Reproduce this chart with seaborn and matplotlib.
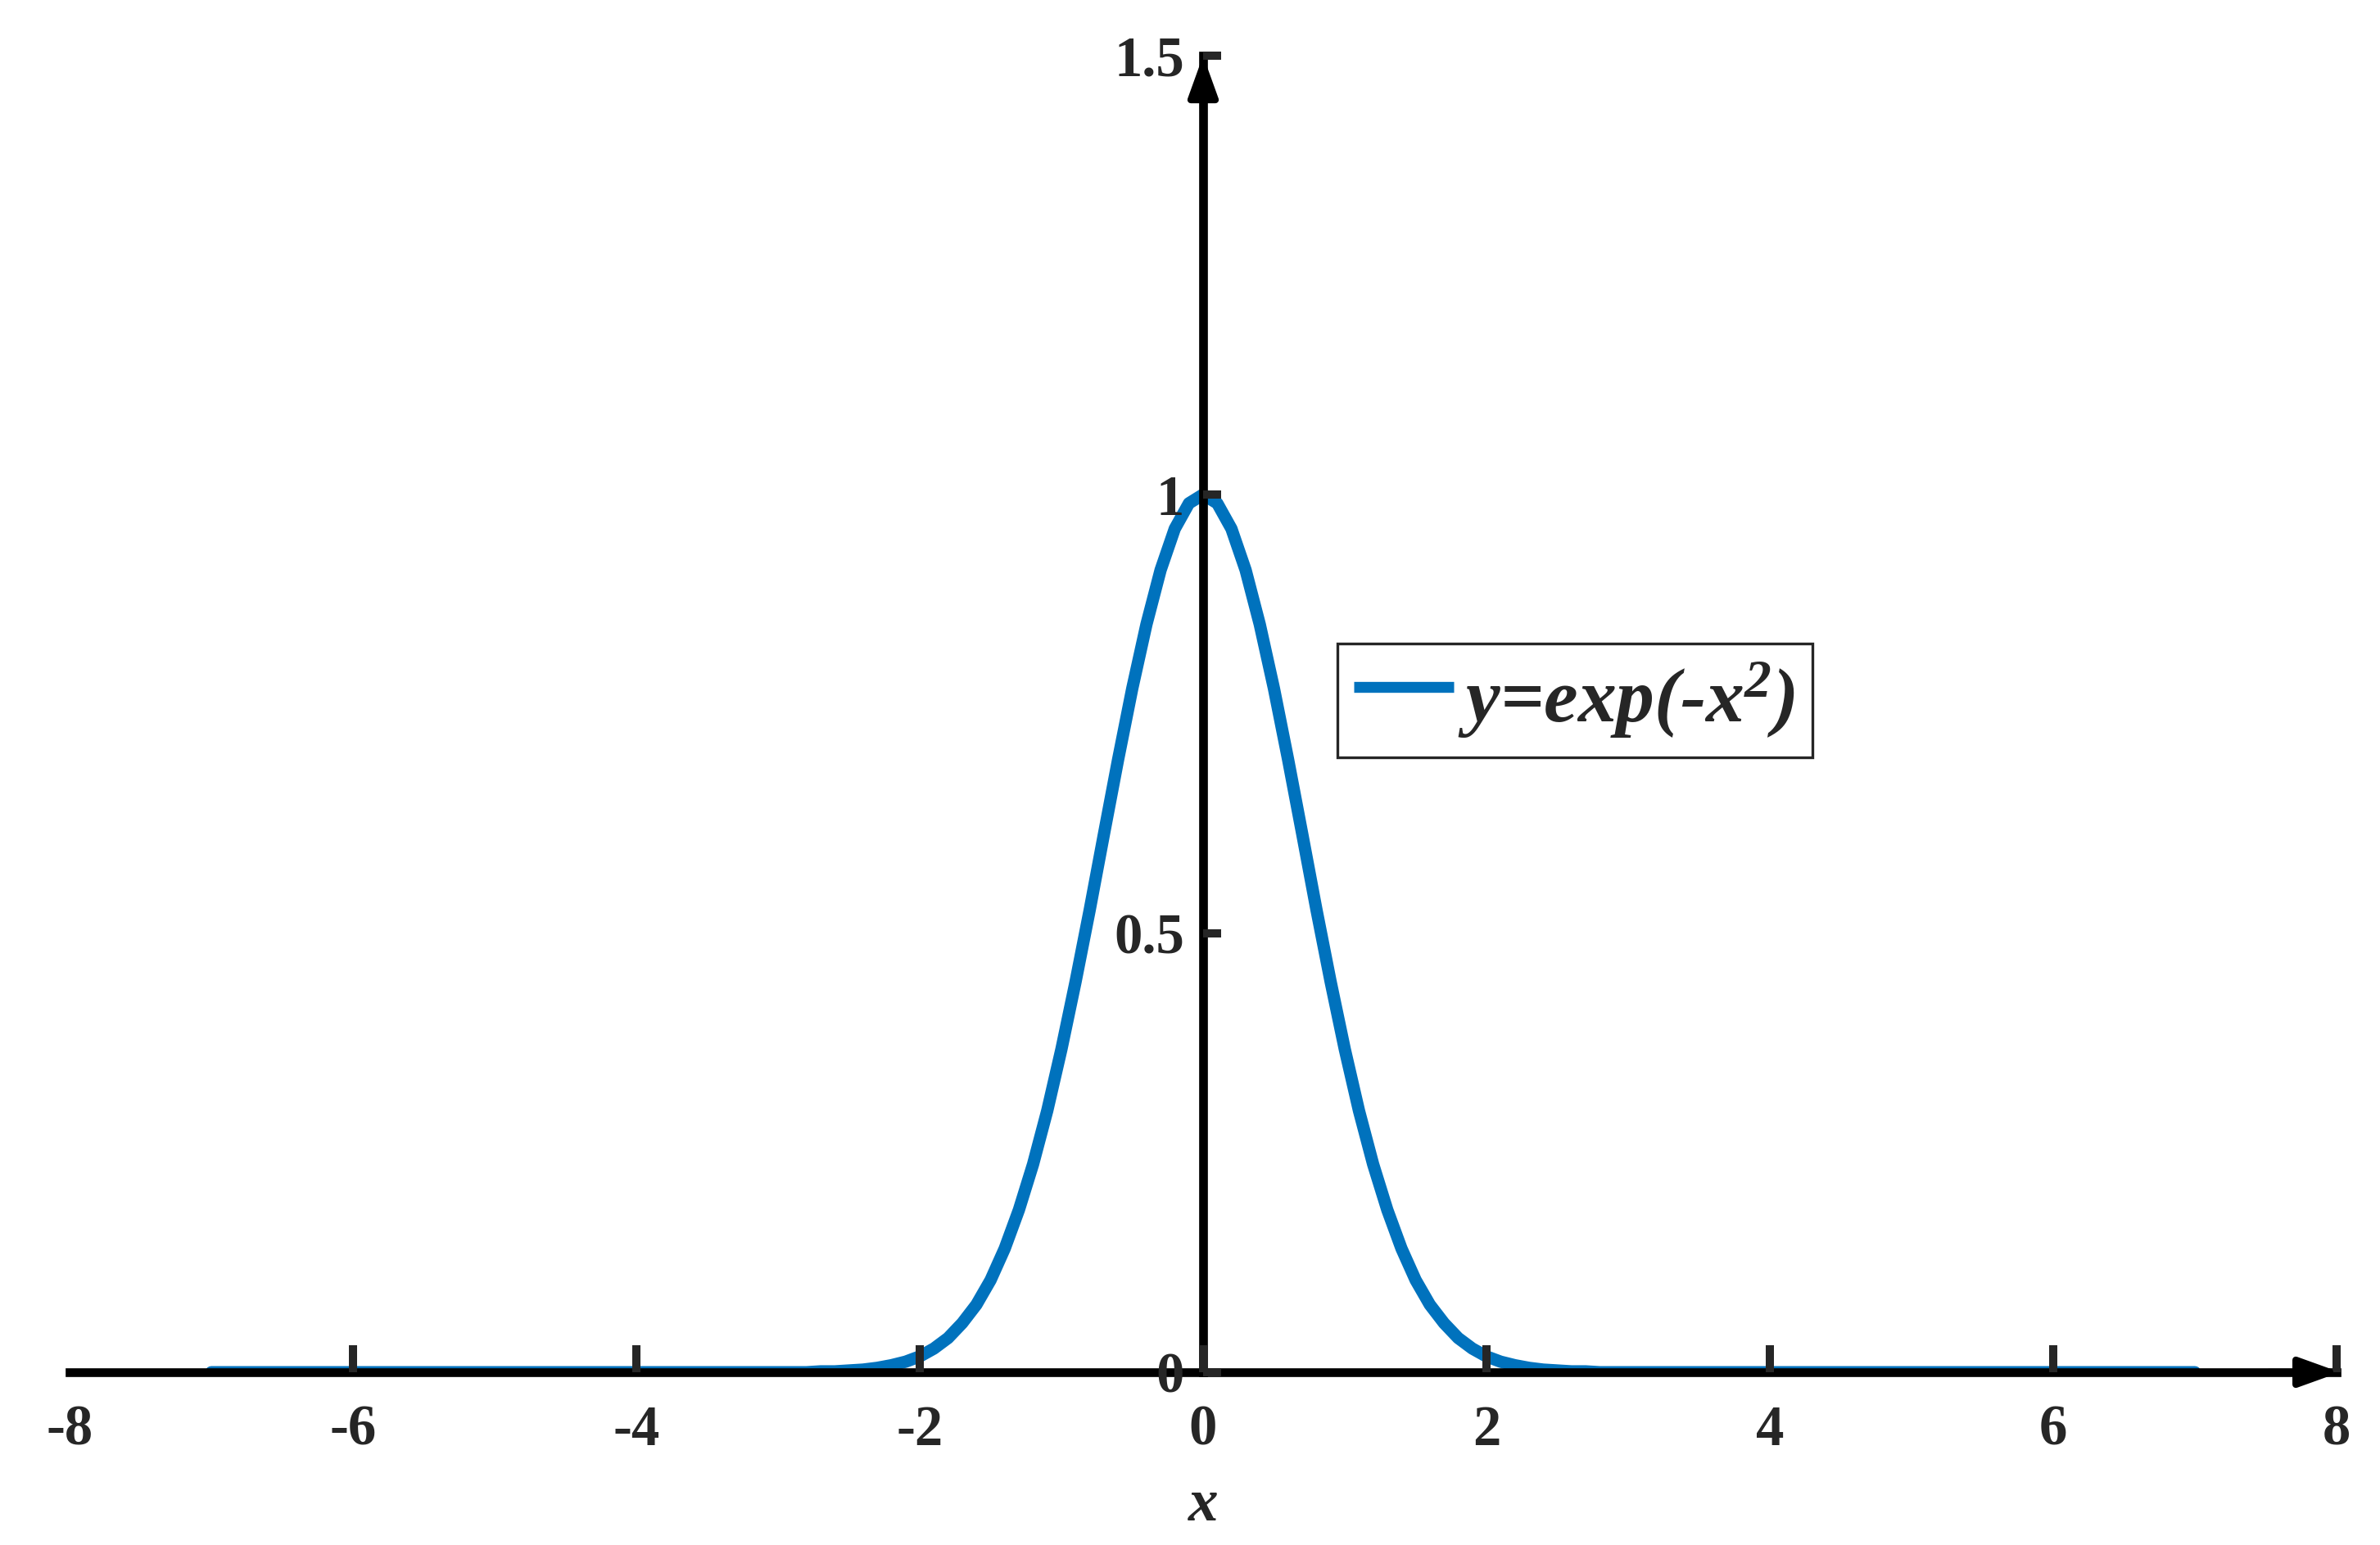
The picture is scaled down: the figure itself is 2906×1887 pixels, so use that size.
import matplotlib
matplotlib.use("Agg")
import matplotlib.pyplot as plt
import seaborn as sns

# curve samples (y = exp(-x^2), -7 .. 7)
x_vals = [-7.0, -6.0, -5.0, -4.0,
          -3.0, -2.9, -2.8, -2.7, -2.6, -2.5, -2.4, -2.3, -2.2, -2.1,
          -2.0, -1.9, -1.8, -1.7, -1.6, -1.5, -1.4, -1.3, -1.2, -1.1,
          -1.0, -0.9, -0.8, -0.7, -0.6, -0.5, -0.4, -0.3, -0.2, -0.1,
          0.0,
          0.1, 0.2, 0.3, 0.4, 0.5, 0.6, 0.7, 0.8, 0.9, 1.0,
          1.1, 1.2, 1.3, 1.4, 1.5, 1.6, 1.7, 1.8, 1.9, 2.0,
          2.1, 2.2, 2.3, 2.4, 2.5, 2.6, 2.7, 2.8, 2.9, 3.0,
          4.0, 5.0, 6.0, 7.0]
y_vals = [0.0, 0.0, 0.0, 0.0,
          0.000, 0.000, 0.000, 0.001, 0.001, 0.002, 0.003, 0.005, 0.008, 0.012,
          0.018, 0.027, 0.039, 0.056, 0.077, 0.105, 0.141, 0.185, 0.237, 0.298,
          0.368, 0.445, 0.527, 0.613, 0.698, 0.779, 0.852, 0.914, 0.961, 0.990,
          1.000,
          0.990, 0.961, 0.914, 0.852, 0.779, 0.698, 0.613, 0.527, 0.445, 0.368,
          0.298, 0.237, 0.185, 0.141, 0.105, 0.077, 0.056, 0.039, 0.027, 0.018,
          0.012, 0.008, 0.005, 0.003, 0.002, 0.001, 0.001, 0.000, 0.000, 0.000,
          0.0, 0.0, 0.0, 0.0]

x_ticks = [-8, -6, -4, -2, 0, 2, 4, 6, 8]
y_ticks = [0, 0.5, 1, 1.5]
y_tick_labels = ["0", "0.5", "1", "1.5"]
legend_label = "y=exp(-x$^2$)"
x_label = "x"

LINE_BLUE = "#0072BD"
DARK = "#262626"

sns.set_style("white")
plt.rcParams["font.family"] = ["Liberation Serif", "DejaVu Serif"]
plt.rcParams["axes.unicode_minus"] = False
plt.rcParams["mathtext.fontset"] = "custom"
plt.rcParams["mathtext.rm"] = "Liberation Serif:bold:italic"
plt.rcParams["mathtext.it"] = "Liberation Serif:bold:italic"
plt.rcParams["mathtext.bf"] = "Liberation Serif:bold:italic"

fig = plt.figure(figsize=(9.6867, 6.29), dpi=300)
ax = fig.add_axes([0.02925, 0.11182, 0.95251, 0.85214])

sns.lineplot(x=x_vals, y=y_vals, ax=ax, color=LINE_BLUE, linewidth=3.6,
             label=legend_label, sort=False)

ax.set_xlim(-8, 8)
ax.set_ylim(0, 1.5)

# axes through the origin, MATLAB style
for side in ("top", "right"):
    ax.spines[side].set_visible(False)
for side in ("left", "bottom"):
    ax.spines[side].set_position(("data", 0))
    ax.spines[side].set_linewidth(2.56)
    ax.spines[side].set_color("black")
ax.set_axisbelow(False)

ax.set_xticks(x_ticks)
ax.set_xticklabels([str(t) for t in x_ticks])
ax.set_yticks(y_ticks)
ax.set_yticklabels(y_tick_labels)
ax.tick_params(axis="x", bottom=True, direction="in", length=7.9, width=2.4,
               color=DARK, pad=9.5, labelsize=16.5, labelcolor=DARK)
ax.tick_params(axis="y", left=True, direction="in", length=5.3, width=2.4,
               color=DARK, pad=5.5, labelsize=16.5, labelcolor=DARK)
for lab in ax.get_xticklabels() + ax.get_yticklabels():
    lab.set_fontweight("bold")
ax.xaxis.get_major_ticks()[0].tick1line.set_visible(False)

ax.set_xlabel(x_label, fontsize=17.6, fontweight="bold", fontstyle="italic",
              color=DARK)
ax.xaxis.set_label_coords(0.5, -0.08)

# arrow heads on both axes
arrow_kw = dict(arrowstyle="-|>,head_length=0.5,head_width=0.18",
                color="black", lw=2.0, shrinkA=0, shrinkB=0,
                mutation_scale=20)
ax.annotate("", xy=(1.0015, 0), xycoords=("axes fraction", "data"),
            xytext=(0.97, 0), textcoords=("axes fraction", "data"),
            arrowprops=arrow_kw, annotation_clip=False)
ax.annotate("", xy=(0, 1.0), xycoords=("data", "axes fraction"),
            xytext=(0, 0.96), textcoords=("data", "axes fraction"),
            arrowprops=arrow_kw, annotation_clip=False)

leg = ax.legend(loc="upper left", bbox_to_anchor=(0.5592, 0.5535),
                borderaxespad=0, frameon=True, fancybox=False,
                edgecolor=DARK, framealpha=1, handlelength=1.3,
                handletextpad=0.05, borderpad=0.22,
                prop=dict(family="Liberation Serif", weight="bold",
                          style="italic", size=22.5))
leg.get_frame().set_linewidth(0.8)
# MATLAB draws the sample line a little above the text centre
for h in leg.legend_handles:
    h.set_linewidth(3.2)
    h.set_solid_capstyle("butt")
    h.set_ydata([v + 2.5 for v in h.get_ydata()])

fig.savefig("out.png", dpi=300)
